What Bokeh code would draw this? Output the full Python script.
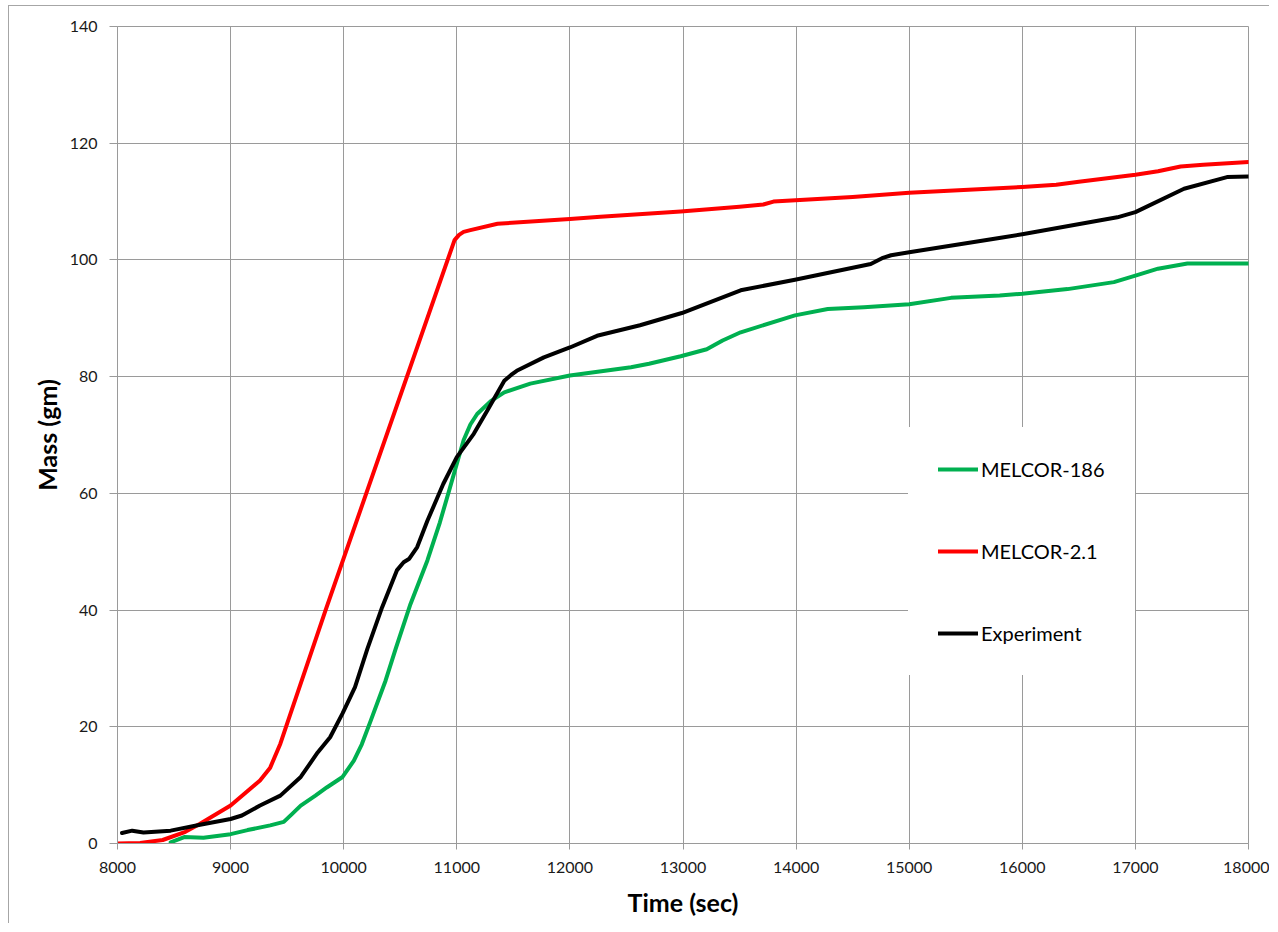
from bokeh.plotting import figure
from bokeh.models import Range1d, FixedTicker, Legend, LegendItem
from bokeh.embed import file_html
from bokeh.resources import INLINE

# ---- data ----
t_melcor186 = [8470, 8590, 8760, 9000, 9150, 9350, 9470, 9540, 9620, 9750, 9850, 9990, 10090, 10160,
               10240, 10370, 10460, 10590, 10740, 10850, 10940, 11060, 11120, 11180, 11300, 11420, 11650,
               12000, 12540, 12700, 12980, 13210, 13350, 13510, 13990, 14280, 14600, 15000, 15370,
               15800, 16000, 16400, 16810, 17000, 17200, 17460, 17600, 18000]
m_melcor186 = [0.2, 1.1, 1.0, 1.6, 2.3, 3.1, 3.7, 5.0, 6.5, 8.2, 9.6, 11.4, 14.2, 17.0,
               21.1, 27.9, 33.4, 41.0, 48.5, 55.0, 61.0, 69.1, 71.8, 73.6, 75.8, 77.3, 78.8,
               80.2, 81.6, 82.2, 83.5, 84.7, 86.2, 87.6, 90.5, 91.6, 91.9, 92.4, 93.5,
               93.9, 94.2, 95.0, 96.2, 97.3, 98.5, 99.4, 99.4, 99.4]

t_melcor21 = [8000, 8200, 8400, 8600, 8730, 9000, 9260, 9350, 9440, 9490, 9840, 10980, 11020, 11060,
              11120, 11360, 12000, 12270, 12980, 13500, 13710, 13800, 14500, 15000, 16000, 16300, 16500,
              17000, 17200, 17400, 17600, 18000]
m_melcor21 = [0.0, 0.1, 0.6, 2.0, 3.4, 6.5, 10.8, 13.0, 17.1, 20.0, 40.0, 103.4, 104.3, 104.8,
              105.1, 106.2, 107.0, 107.4, 108.3, 109.1, 109.5, 110.0, 110.8, 111.5, 112.5, 112.9, 113.4,
              114.6, 115.2, 116.0, 116.3, 116.8]

t_experiment = [8040, 8130, 8230, 8470, 8730, 9000, 9100, 9260, 9440, 9620, 9770, 9880, 9990, 10100,
                10210, 10340, 10470, 10530, 10580, 10650, 10740, 10880, 11000, 11150, 11270, 11420, 11480,
                11530, 11770, 12000, 12240, 12620, 12990, 13510, 13990, 14660, 14760, 14840, 15000, 15810,
                16000, 16840, 17000, 17430, 17810, 18000]
m_experiment = [1.8, 2.2, 1.9, 2.2, 3.2, 4.2, 4.8, 6.5, 8.2, 11.4, 15.6, 18.2, 22.3, 26.8,
                33.4, 40.5, 46.8, 48.2, 48.8, 50.8, 55.3, 61.6, 66.2, 70.2, 74.2, 79.3, 80.3,
                81.0, 83.3, 85.0, 87.0, 88.8, 90.9, 94.8, 96.6, 99.3, 100.3, 100.8, 101.3, 103.8,
                104.4, 107.3, 108.2, 112.2, 114.2, 114.3]

x_ticks = list(range(8000, 18001, 1000))
y_ticks = list(range(0, 141, 20))

series_names = ["MELCOR-186", "MELCOR-2.1", "Experiment"]
series_colors = ["#00B050", "#FF0000", "#000000"]

FONT = "Lato"
GRID = "#9a9a9a"

p = figure(width=1261, height=918, output_backend="svg", toolbar_location=None,
           x_range=Range1d(8000, 18000), y_range=Range1d(0, 140),
           min_border_left=108, min_border_right=22, min_border_top=20, min_border_bottom=81)
p.styles = {"margin-left": "8px", "margin-top": "5px",
            "border-left": "1px solid #a6a6a6", "border-top": "1px solid #a6a6a6"}

p.outline_line_color = GRID
p.outline_line_width = 1
p.background_fill_color = "white"
p.border_fill_color = "white"

for ax, ticks in ((p.xaxis, x_ticks), (p.yaxis, y_ticks)):
    ax.ticker = FixedTicker(ticks=ticks)
    ax.axis_line_color = GRID
    ax.major_tick_line_color = GRID
    ax.minor_tick_line_color = None
    ax.major_tick_in = 0
    ax.major_label_text_font = FONT
    ax.major_label_text_font_size = "16px"
    ax.major_label_text_color = "#1a1a1a"
    ax.axis_label_text_font = FONT
    ax.axis_label_text_font_size = "25px"
    ax.axis_label_text_font_style = "bold"
    ax.axis_label_text_color = "black"

p.xaxis.major_tick_out = 6
p.yaxis.major_tick_out = 8
p.xaxis.major_label_standoff = 12
p.yaxis.major_label_standoff = 12
p.xaxis.axis_label = "Time (sec)"
p.yaxis.axis_label = "Mass (gm)"
p.xaxis.axis_label_standoff = 11
p.yaxis.axis_label_standoff = 5

p.xgrid.ticker = FixedTicker(ticks=x_ticks)
p.ygrid.ticker = FixedTicker(ticks=y_ticks)
p.grid.grid_line_color = GRID
p.grid.grid_line_width = 1

renderers = []
for t, m, c in ((t_melcor186, m_melcor186, series_colors[0]),
                (t_melcor21, m_melcor21, series_colors[1]),
                (t_experiment, m_experiment, series_colors[2])):
    r = p.line(t, m, line_color=c, line_width=4, line_join="round", line_cap="round")
    renderers.append(r)

legend = Legend(items=[LegendItem(label=n, renderers=[r]) for n, r in zip(series_names, renderers)],
                location=(791, 168))
legend.padding = 30
legend.spacing = 58
legend.margin = 0
legend.glyph_width = 40
legend.glyph_height = 20
legend.label_height = 20
legend.label_standoff = 3
legend.label_text_font = FONT
legend.label_text_font_size = "20px"
legend.label_text_color = "black"
legend.border_line_alpha = 0
legend.background_fill_color = "white"
legend.background_fill_alpha = 1
p.add_layout(legend, "center")

open("out.html", "w").write(file_html(p, INLINE))
